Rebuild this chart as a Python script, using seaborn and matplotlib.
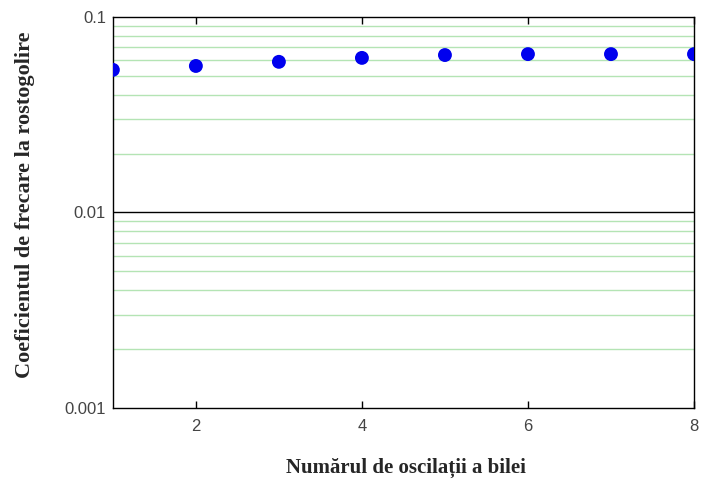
import numpy as np
import pandas as pd
import matplotlib
matplotlib.use("Agg")
import matplotlib.pyplot as plt
import matplotlib.ticker as mticker
import seaborn as sns

# date
oscilatii = [1, 2, 3, 4, 5, 6, 7, 8]
coeficient = [0.0536, 0.0561, 0.0589, 0.0617, 0.0638, 0.0645, 0.0645, 0.0645]
y_ticks = [0.001, 0.01, 0.1]
y_tick_labels = ["0.001", "0.01", "0.1"]
x_ticks = [2, 4, 6, 8]

df = pd.DataFrame({"oscilatii": oscilatii, "coeficient": coeficient})

sns.set_style("white")

fig = plt.figure(figsize=(7.01, 4.82), dpi=100)
ax = fig.add_axes([0.161, 0.1535, 0.829, 0.8115])

ax.set_yscale("log")
ax.set_xlim(1, 8)
ax.set_ylim(0.001, 0.1)

# grila: verde pentru diviziuni minore, negru la 0.01
for dec in [0.001, 0.01]:
    for m in range(2, 10):
        ax.axhline(dec * m, color="#b4e4b4", lw=1, zorder=1)
ax.axhline(0.01, color="black", lw=1, zorder=1)

sns.scatterplot(data=df, x="oscilatii", y="coeficient", ax=ax,
                color="#0000ee", s=100, edgecolor="none", zorder=3)

ax.set_xticks(x_ticks)
ax.set_yticks(y_ticks)
ax.set_yticklabels(y_tick_labels)
ax.yaxis.set_minor_locator(mticker.NullLocator())
ax.tick_params(axis="x", direction="in", top=True, bottom=True, length=5,
               width=1, color="black", pad=8)
ax.tick_params(axis="y", direction="in", left=True, length=0, pad=5)
for lab in ax.get_xticklabels() + ax.get_yticklabels():
    lab.set_fontfamily("Liberation Sans")
    lab.set_fontsize(12)
    lab.set_color("#444444")

for sp in ax.spines.values():
    sp.set_color("black")
    sp.set_linewidth(1)

ax.set_xlabel("Numărul de oscilații a bilei", fontfamily="Liberation Serif",
              fontsize=15, fontweight="bold", va="center")
ax.set_ylabel("Coeficientul de frecare la rostogolire", fontfamily="Liberation Serif",
              fontsize=16, fontweight="bold", va="center")
ax.xaxis.set_label_coords(0.504, -0.153)
ax.yaxis.set_label_coords(-0.151, 0.52)

fig.savefig("out.png", dpi=100)
